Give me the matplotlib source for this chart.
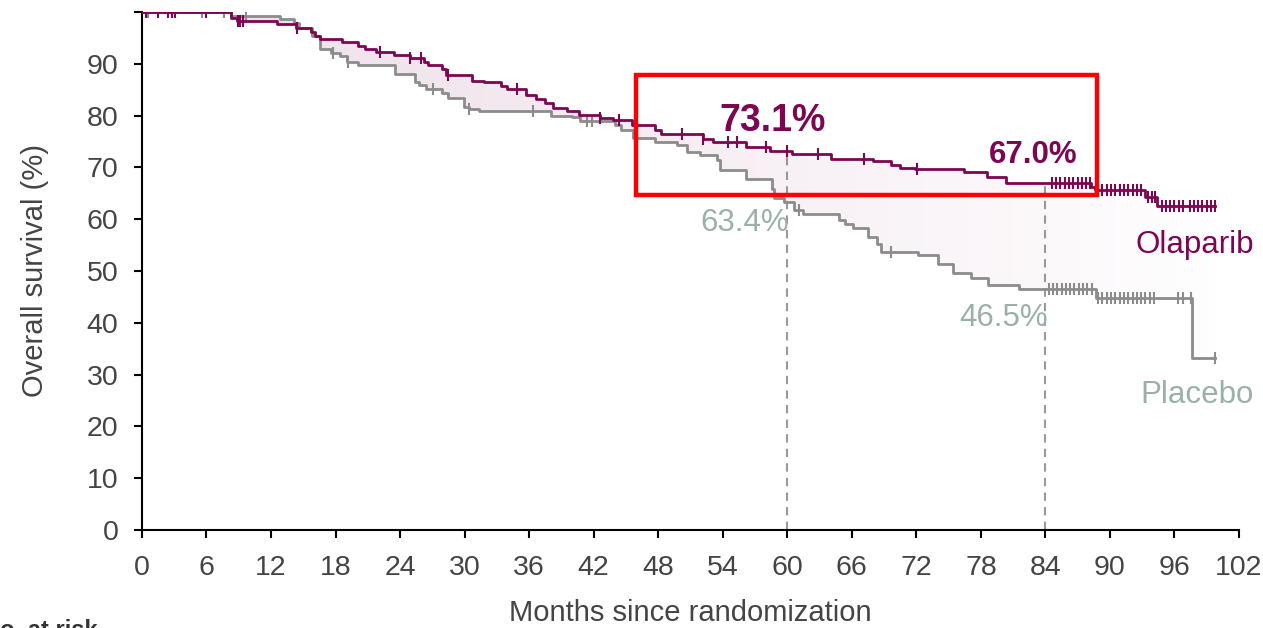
import numpy as np
import matplotlib.pyplot as plt
from matplotlib.patches import Rectangle

plt.rcParams['font.family'] = ['Liberation Sans', 'DejaVu Sans']

# Kaplan-Meier steps: time (months) where survival changes, and survival (%) after it
ola_t = [0, 8.3, 8.8, 12.6, 14.3, 15.7, 16.1, 16.6, 18.6, 20.1, 20.7, 21.8, 23.4,
         24.9, 26.2, 26.6, 27.9, 28.3, 30.7, 31.8, 33.4, 33.9, 35.7, 36.6, 37.5,
         38.2, 39.5, 40.6, 42.6, 43.8, 45.6, 47.7, 48.3, 52.2, 53.1, 56.2, 58.4,
         60.4, 64.1, 68.0, 69.6, 70.5, 71.9, 76.4, 78.6, 80.3, 88.2, 88.6, 93.3,
         94.4, 99.8]
ola_s = [100, 98.8, 98.2, 97.6, 96.9, 96.1, 95.3, 94.8, 94.1, 93.4, 92.8, 92.2, 91.7,
         91.2, 90.4, 89.7, 88.9, 87.8, 86.7, 86.4, 85.7, 85.1, 83.9, 83.1, 82.4,
         81.4, 80.8, 80.1, 79.6, 79.1, 78.2, 77.2, 76.4, 75.5, 74.8, 74.0, 73.1,
         72.5, 71.7, 71.2, 70.4, 69.9, 69.6, 69.1, 68.2, 67.0, 66.3, 65.6, 64.3,
         62.6, 62.6]

pla_t = [0, 8.3, 12.8, 14.1, 14.6, 15.8, 16.6, 17.6, 18.4, 19.1, 20.1, 23.5, 25.4,
         25.8, 26.4, 27.9, 28.5, 29.9, 30.4, 31.3, 38.0, 40.0, 40.7, 44.0, 44.5,
         45.7, 47.7, 49.7, 50.7, 51.9, 53.5, 53.7, 56.2, 58.6, 58.8, 59.7, 60.6,
         61.5, 64.8, 65.4, 66.1, 67.5, 68.3, 68.7, 72.2, 74.0, 75.4, 77.1, 78.7,
         81.5, 88.7, 97.6, 99.8]
pla_s = [100, 99.3, 98.6, 97.8, 96.9, 95.3, 92.8, 92.1, 91.4, 90.4, 89.8, 88.1, 86.4,
         85.9, 85.2, 84.3, 83.3, 81.7, 81.2, 80.8, 80.0, 79.8, 79.0, 78.2, 77.2,
         75.7, 74.9, 74.3, 73.0, 72.3, 71.4, 69.4, 67.8, 65.9, 64.0, 63.4, 61.7,
         61.0, 59.8, 59.1, 58.3, 56.5, 55.2, 53.7, 53.1, 51.4, 49.6, 48.6, 47.3,
         46.5, 44.7, 33.3, 33.3]

# censored observations (months)
ola_cens = [0.4, 1.5, 2.4, 2.8, 3.1, 6.0, 8.9, 9.1, 9.4, 14.4, 22.1, 24.9, 25.9,
            28.5, 34.9, 42.6, 44.4, 50.2, 52.2, 54.5, 55.3, 58.0, 60.0, 62.9, 67.1,
            72.1, 84.6, 85.0, 85.4, 85.8, 86.2, 86.6, 87.0, 87.4, 87.8, 88.1,
            88.9, 89.3, 89.7, 90.1, 90.5, 90.9, 91.3, 91.7, 92.1, 92.5, 92.9,
            93.5, 93.9, 94.2, 94.8, 95.2, 95.6, 96.0, 96.4, 96.8, 97.4, 97.8,
            98.2, 98.6, 99.0, 99.4, 99.8]
pla_cens = [0.6, 5.6, 7.6, 9.7, 17.8, 19.2, 27.1, 30.4, 36.4, 41.4, 41.8, 61.1,
            69.6, 84.3, 84.7, 85.1, 85.5, 85.9, 86.3, 86.7, 87.1, 87.5, 87.9,
            88.3, 88.9, 89.3, 89.7, 90.1, 90.5, 90.9, 91.3, 91.7, 92.1, 92.5,
            92.9, 93.3, 93.7, 94.1, 96.3, 96.8, 97.5, 99.8]

# survival read at 60 and 84 months
mark_t = [60, 84]
ola_mark = [73.1, 67.0]
pla_mark = [63.4, 46.5]

PURPLE = '#7d0552'
GREY = '#8c8c8c'
SAGE = '#9cb0aa'
TXT = '#444444'


def surv_at(times, surv, x):
    idx = np.searchsorted(times, x, side='right') - 1
    return np.asarray(surv)[np.clip(idx, 0, len(surv) - 1)]


fig = plt.figure(figsize=(12.63, 6.28), dpi=100)
ax = fig.add_axes([0.1124, 0.156, 0.8686, 0.825])

# shaded gap between the two curves, fading to white on the right
grid = np.union1d(ola_t, pla_t)
poly = ax.fill_between(grid, surv_at(ola_t, ola_s, grid), surv_at(pla_t, pla_s, grid),
                       step='post', facecolor='none', edgecolor='none')
c0 = np.array([0.935, 0.875, 0.912])
ramp = np.linspace(0, 1, 256)[None, :, None]
grad = c0 + (1 - c0) * ramp ** 1.1
im = ax.imshow(grad, extent=[0, 102, 0, 100], aspect='auto', zorder=1,
               interpolation='bilinear')
im.set_clip_path(poly.get_paths()[0], ax.transData)

ax.step(pla_t, pla_s, where='post', color=GREY, lw=2.0, zorder=3)
ax.step(ola_t, ola_s, where='post', color=PURPLE, lw=2.0, zorder=4)
ax.plot(pla_cens, surv_at(pla_t, pla_s, pla_cens), ls='none', marker='|',
        ms=8, mew=1.5, color=GREY, zorder=3)
ax.plot(ola_cens, surv_at(ola_t, ola_s, ola_cens), ls='none', marker='|',
        ms=8, mew=1.5, color=PURPLE, zorder=4)

# dashed guides at the landmark times
for t, top in zip(mark_t, ola_mark):
    ax.plot([t, t], [0, top], color='#999999', lw=1.5, ls=(0, (4, 3)), zorder=2)

ax.text(58.6, 79.0, f'{ola_mark[0]:.1f}%', color=PURPLE, fontsize=27,
        fontweight='bold', ha='center', va='center')
ax.text(82.9, 72.4, f'{ola_mark[1]:.1f}%', color=PURPLE, fontsize=22.5,
        fontweight='bold', ha='center', va='center')
ax.text(60.2, 59.3, f'{pla_mark[0]:.1f}%', color=SAGE, fontsize=22.5,
        ha='right', va='center')
ax.text(84.2, 40.9, f'{pla_mark[1]:.1f}%', color=SAGE, fontsize=22.5,
        ha='right', va='center')
ax.text(103.4, 55.0, 'Olaparib', color=PURPLE, fontsize=22.5, ha='right', va='center')
ax.text(103.4, 26.0, 'Placebo', color=SAGE, fontsize=22.5, ha='right', va='center')

ax.add_patch(Rectangle((45.9, 64.7), 42.9, 23.1, fill=False, edgecolor='#ff0000',
                       lw=3.2, zorder=6, clip_on=False))

ax.set_xlim(0, 102)
ax.set_ylim(0, 100)
ax.set_xticks(range(0, 103, 6))
ax.set_yticks(range(0, 101, 10))
ax.set_yticklabels([str(v) if v < 100 else '' for v in range(0, 101, 10)])
ax.tick_params(axis='both', labelsize=20.5, labelcolor=TXT, length=6, width=1.5,
               direction='out')
ax.tick_params(axis='y', pad=11)
ax.tick_params(axis='x', pad=12)
for side in ('top', 'right'):
    ax.spines[side].set_visible(False)
for side in ('left', 'bottom'):
    ax.spines[side].set_linewidth(1.5)
ax.set_xlabel('Months since randomization', fontsize=21, color=TXT, labelpad=13)
ax.set_ylabel('Overall survival (%)', fontsize=21, color=TXT, labelpad=27)

fig.text(-0.0135, -0.014, 'No. at risk', fontsize=17, fontweight='bold',
         color='#333333', ha='left', va='baseline')

fig.savefig('out.png', dpi=100)
